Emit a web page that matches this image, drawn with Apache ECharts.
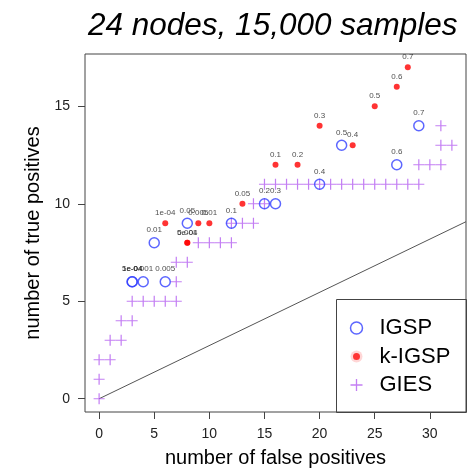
<!DOCTYPE html>
<html>
<head>
<meta charset="utf-8">
<script src="https://cdn.jsdelivr.net/npm/echarts@6/dist/echarts.min.js"></script>
<style>
html,body{margin:0;padding:0;background:#fff;}
#main{width:471px;height:469px;}
</style>
</head>
<body>
<div id="main"></div>
<script>
// IGSP (open circles)
var igspFP = [3, 3, 4, 6, 5, 8, 12, 15, 16, 20, 22, 27, 29];
var igspTP = [6, 6, 6, 6, 8, 9, 9, 10, 10, 11, 13, 12, 14];
var igspAlpha = ["1e-04", "5e-04", "0.001", "0.005", "0.01", "0.05", "0.1", "0.2", "0.3", "0.4", "0.5", "0.6", "0.7"];
// k-IGSP (red dots)
var kigspFP = [6, 8, 8, 9, 10, 13, 16, 18, 20, 23, 25, 27, 28];
var kigspTP = [9, 8, 8, 9, 9, 10, 12, 12, 14, 13, 15, 16, 17];
var kigspAlpha = ["1e-04", "5e-04", "0.001", "0.005", "0.01", "0.05", "0.1", "0.2", "0.3", "0.4", "0.5", "0.6", "0.7"];
// GIES (pluses)
var giesFP = [0, 0, 0, 1, 1, 2, 2, 3, 3, 4, 5, 6, 7, 7, 7, 8, 9, 10, 11, 12, 12, 13, 14, 14, 15,
  15, 16, 17, 18, 19, 20, 21, 22, 23, 24, 25, 26, 27, 28, 29, 29, 30, 31, 31, 32, 31];
var giesTP = [0, 1, 2, 2, 3, 3, 4, 4, 5, 5, 5, 5, 5, 6, 7, 7, 8, 8, 8, 8, 9, 9, 9, 10, 10,
  11, 11, 11, 11, 11, 11, 11, 11, 11, 11, 11, 11, 11, 11, 11, 12, 12, 12, 13, 13, 14];
// reference line
var refLine = [[0, 0], [33.28, 9.08]];
var xTicks = [0, 5, 10, 15, 20, 25, 30];
var yTicks = [0, 5, 10, 15];

var myChart = echarts.init(document.getElementById("main"));
var font = "'Liberation Sans', Arial, sans-serif";
var blue = '#3340ff', red = '#ff0000', purple = '#b45ef0';
var plusPath = 'path://M4.45,0H5.55V4.45H10V5.55H5.55V10H4.45V5.55H0V4.45H4.45Z';

function zip(xs, ys, ls) {
  var out = [];
  for (var i = 0; i < xs.length; i++) {
    out.push(ls ? [xs[i], ys[i], ls[i]] : [xs[i], ys[i]]);
  }
  return out;
}

var ptLabel = {
  show: true, position: 'top', distance: 3,
  fontSize: 8, fontFamily: font, color: '#222',
  formatter: function (p) { return p.value[2]; }
};

var option = {
  animation: false,
  backgroundColor: '#fff',
  title: {
    text: '24 nodes, 15,000 samples',
    left: 83, top: 5,
    textStyle: { fontSize: 31.5, fontStyle: 'italic', fontWeight: 'normal', fontFamily: font, color: '#000' }
  },
  grid: {
    left: 85, top: 54, right: 5, bottom: 57,
    outerBoundsMode: 'none', containLabel: false,
    show: true, borderColor: '#444', borderWidth: 1, backgroundColor: 'transparent'
  },
  xAxis: {
    type: 'value', min: -1.28, max: 33.28,
    name: 'number of false positives', nameLocation: 'middle', nameGap: 36,
    nameTextStyle: { fontSize: 20, fontFamily: font, color: '#000' },
    axisLine: { show: false, onZero: false },
    axisTick: { show: true, length: 7, customValues: xTicks, lineStyle: { color: '#444' } },
    axisLabel: { customValues: xTicks, margin: 15, fontSize: 14, fontFamily: font, color: '#222' },
    splitLine: { show: false }
  },
  yAxis: {
    type: 'value', min: -0.68, max: 17.68,
    name: 'number of true positives', nameLocation: 'middle', nameGap: 42,
    nameTextStyle: { fontSize: 20, fontFamily: font, color: '#000' },
    axisLine: { show: false, onZero: false },
    axisTick: { show: true, length: 7, customValues: yTicks, lineStyle: { color: '#444' } },
    axisLabel: { customValues: yTicks, margin: 15, fontSize: 14, fontFamily: font, color: '#222' },
    splitLine: { show: false }
  },
  legend: {
    orient: 'vertical', left: 348, top: 317,
    itemWidth: 36, itemHeight: 12, itemGap: 6.5, padding: 0,
    textStyle: { fontSize: 22, fontFamily: font, color: '#000', lineHeight: 22 },
    data: [
      { name: 'IGSP', icon: 'circle', itemStyle: { color: 'transparent', borderColor: blue, borderWidth: 1.5 } },
      { name: 'k-IGSP', icon: 'circle', itemStyle: { color: red, borderColor: '#fff', borderWidth: 5 } },
      { name: 'GIES', icon: plusPath, itemStyle: { color: purple, borderWidth: 0 } }
    ]
  },
  graphic: [{
    type: 'rect', left: 336, top: 299, z: -1,
    shape: { width: 130, height: 113 },
    style: { fill: '#fff', stroke: '#444', lineWidth: 1 }
  }],
  series: [
    {
      name: 'ref', type: 'line', data: refLine, symbol: 'none', silent: true,
      lineStyle: { color: '#555', width: 1 }, z: 1
    },
    {
      name: 'IGSP', type: 'scatter', data: zip(igspFP, igspTP, igspAlpha),
      symbol: 'circle', symbolSize: 10,
      itemStyle: { color: 'transparent', borderColor: blue, borderWidth: 1.5 },
      label: ptLabel, z: 3
    },
    {
      name: 'k-IGSP', type: 'scatter', data: zip(kigspFP, kigspTP, kigspAlpha),
      symbol: 'circle', symbolSize: 6,
      itemStyle: { color: red },
      label: ptLabel, z: 4
    },
    {
      name: 'GIES', type: 'scatter', data: zip(giesFP, giesTP),
      symbol: plusPath, symbolSize: 11,
      itemStyle: { color: purple }, z: 2
    }
  ]
};
myChart.setOption(option);
window.addEventListener("resize", function () { myChart.resize(); });
</script>
</body>
</html>
